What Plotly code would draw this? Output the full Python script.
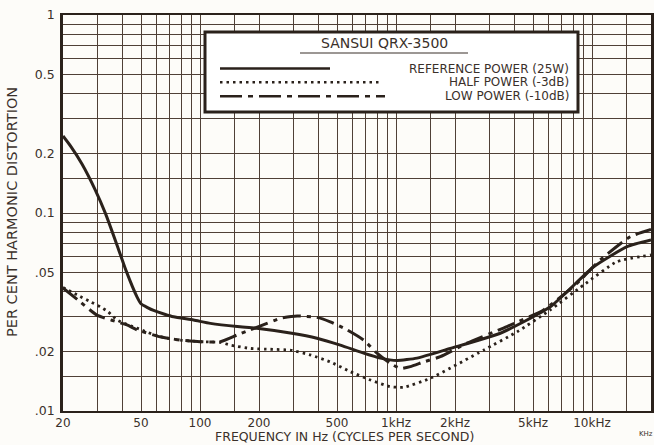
import plotly.graph_objects as go

# ---------------- data ----------------
ref_freq = [20, 22, 25, 29.2, 33, 37.7, 42, 47.7, 50, 54, 58, 66, 73.3, 92.7, 113, 155, 195,
            294, 395, 520, 684, 832, 1012, 1280, 1893, 3405, 6130, 10200, 15100, 20000]
ref_thd = [0.245, 0.216, 0.177, 0.131, 0.099, 0.069, 0.051, 0.0377, 0.0348, 0.0333, 0.0322,
           0.0308, 0.0299, 0.0288, 0.0277, 0.0267, 0.0262, 0.0247, 0.0233, 0.0215, 0.0196,
           0.0185, 0.018, 0.0185, 0.0207, 0.0247, 0.0336, 0.0535, 0.0676, 0.073]

half_freq = [20, 23.6, 27.6, 31, 34, 37.7, 47.7, 62.7, 79.3, 100, 127, 143.5, 180.6, 228.5,
             289, 365.5, 462, 585, 740, 936, 1094, 1497, 2800, 4144, 6125, 9060, 13420, 20000]
half_thd = [0.042, 0.0386, 0.0356, 0.0336, 0.0317, 0.0288, 0.0262, 0.0237, 0.0228, 0.0224,
            0.0222, 0.0215, 0.0207, 0.0205, 0.0203, 0.0192, 0.0177, 0.0158, 0.01434, 0.01327,
            0.01318, 0.01463, 0.0203, 0.0251, 0.0324, 0.0433, 0.0568, 0.0614]

low_freq = [20, 24.5, 29.8, 42.4, 47.7, 62.7, 79.3, 100, 127, 154.5, 180.6, 219.6, 257, 313,
            395, 462, 562, 684, 800, 936, 1052, 1183, 1384, 1683, 2303, 3682, 5662, 8380,
            11010, 15670, 20000]
low_thd = [0.0418, 0.0356, 0.0305, 0.0272, 0.0257, 0.0237, 0.0228, 0.0224, 0.0224, 0.0242,
           0.0257, 0.0277, 0.0294, 0.0302, 0.0297, 0.0282, 0.0257, 0.0228, 0.0196, 0.0174,
           0.0164, 0.01675, 0.0177, 0.0188, 0.022, 0.0267, 0.0324, 0.0441, 0.0579, 0.0759,
           0.0825]

# grid / tick definitions
x_grid = [20, 30, 40, 50, 60, 70, 80, 90, 100, 150, 200, 300, 400, 500, 600, 700, 800, 900,
          1000, 1500, 2000, 3000, 4000, 5000, 6000, 7000, 8000, 9000, 10000, 15000, 20000]
x_labels = {20: "20", 50: "50", 100: "100", 200: "200", 500: "500", 1000: "1kHz",
            2000: "2kHz", 5000: "5kHz", 10000: "10kHz", 20000: "20"}
y_grid = [0.01, 0.015, 0.02, 0.03, 0.04, 0.05, 0.06, 0.07, 0.08, 0.09, 0.1, 0.15, 0.2, 0.3,
          0.4, 0.5, 0.6, 0.7, 0.8, 0.9, 1.0]
y_labels = {0.01: ".01", 0.02: ".02", 0.05: ".05", 0.1: "0.1", 0.2: "0.2", 0.5: "0.5", 1.0: "1"}

legend_title = "SANSUI QRX-3500"
legend_names = ["REFERENCE POWER (25W)", "HALF POWER (-3dB)", "LOW POWER (-10dB)"]
x_title = "FREQUENCY IN Hz (CYCLES PER SECOND)"
y_title = "PER CENT HARMONIC DISTORTION"

INK = "#2a211b"
GRID = "#4f4037"
TXT = "#3a302a"
BG = "#fdfcf9"
FONT = "DejaVu Sans"

W, H = 654, 445
L, R, T, B = 63, 3, 15, 34
PW, PH = W - L - R, H - T - B


def px(x):
    return (x - L) / PW


def py(y):
    return 1 - (y - T) / PH


DOT = "2.5px,4px"
DASHDOT = "18px,6px,4px,6px"

fig = go.Figure()
fig.add_trace(go.Scatter(x=ref_freq, y=ref_thd, mode="lines", name=legend_names[0],
                         line=dict(color=INK, width=3, shape="spline", smoothing=0.5)))
fig.add_trace(go.Scatter(x=half_freq, y=half_thd, mode="lines", name=legend_names[1],
                         line=dict(color=INK, width=2.8, dash=DOT, shape="spline",
                                   smoothing=0.5)))
fig.add_trace(go.Scatter(x=low_freq, y=low_thd, mode="lines", name=legend_names[2],
                         line=dict(color=INK, width=3, dash=DASHDOT,
                                   shape="spline", smoothing=0.5)))

shapes = []
annotations = []

# legend box
bx0, bx1, by0, by1 = 205, 578, 32, 112
shapes.append(dict(type="rect", xref="paper", yref="paper", x0=px(bx0), x1=px(bx1),
                   y0=py(by1), y1=py(by0), fillcolor="white",
                   line=dict(color=INK, width=3), layer="above"))
annotations.append(dict(text=legend_title, xref="paper", yref="paper", x=px(384), y=py(43),
                        showarrow=False, xanchor="center", yanchor="middle", borderpad=0,
                        font=dict(family=FONT, size=14, color=TXT)))
shapes.append(dict(type="line", xref="paper", yref="paper", x0=px(300), x1=px(468),
                   y0=py(53), y1=py(53), line=dict(color=TXT, width=1.2), layer="above"))

rows = [68.5, 82.3, 96.2]
sample_ends = [330, 380, 385]
sample_dash = ["solid", DOT, "22px,6px,5px,6px"]
for name, yy, xe, dsh in zip(legend_names, rows, sample_ends, sample_dash):
    shapes.append(dict(type="line", xref="paper", yref="paper", x0=px(220), x1=px(xe),
                       y0=py(yy), y1=py(yy), line=dict(color=INK, width=2.6, dash=dsh),
                       layer="above"))
    annotations.append(dict(text=name, xref="paper", yref="paper", x=px(570), y=py(yy),
                            showarrow=False, xanchor="right", yanchor="middle", borderpad=0,
                            font=dict(family=FONT, size=12, color=TXT)))

# small "KHz" under the last tick label
annotations.append(dict(text="KHz", xref="paper", yref="paper", x=px(646), y=py(434),
                        showarrow=False, xanchor="center", yanchor="middle", borderpad=0,
                        font=dict(family=FONT, size=7, color=TXT)))
# axis titles
annotations.append(dict(text=x_title, xref="paper", yref="paper", x=px(344), y=py(436),
                        showarrow=False, xanchor="center", yanchor="middle", borderpad=0,
                        font=dict(family=FONT, size=12.5, color=TXT)))
annotations.append(dict(text=y_title, xref="paper", yref="paper", x=px(12), y=py(212),
                        showarrow=False, xanchor="center", yanchor="middle", textangle=-90,
                        borderpad=0, font=dict(family=FONT, size=14.5, color=TXT)))

fig.update_layout(
    width=W, height=H,
    margin=dict(l=L, r=R, t=T, b=B, autoexpand=False),
    paper_bgcolor=BG, plot_bgcolor=BG,
    showlegend=False,
    shapes=shapes, annotations=annotations,
    font=dict(family=FONT, color=TXT),
)

fig.update_xaxes(
    type="log", range=[1.30103, 4.30103],
    tickmode="array", tickvals=x_grid,
    ticktext=[x_labels.get(v, "") for v in x_grid],
    tickfont=dict(family=FONT, size=12, color=TXT),
    showgrid=True, gridcolor=GRID, gridwidth=1.4,
    showline=True, linecolor=INK, linewidth=2, mirror=True,
    ticks="", ticklabelstandoff=0,
    zeroline=False,
)
fig.update_yaxes(
    type="log", range=[-2, 0],
    tickmode="array", tickvals=y_grid,
    ticktext=[y_labels.get(v, "") for v in y_grid],
    tickfont=dict(family=FONT, size=12.5, color=TXT),
    showgrid=True, gridcolor=GRID, gridwidth=1.4,
    showline=True, linecolor=INK, linewidth=2.5, mirror=True,
    ticks="", ticklabelstandoff=3,
    zeroline=False,
)

fig.write_html("out.html")
